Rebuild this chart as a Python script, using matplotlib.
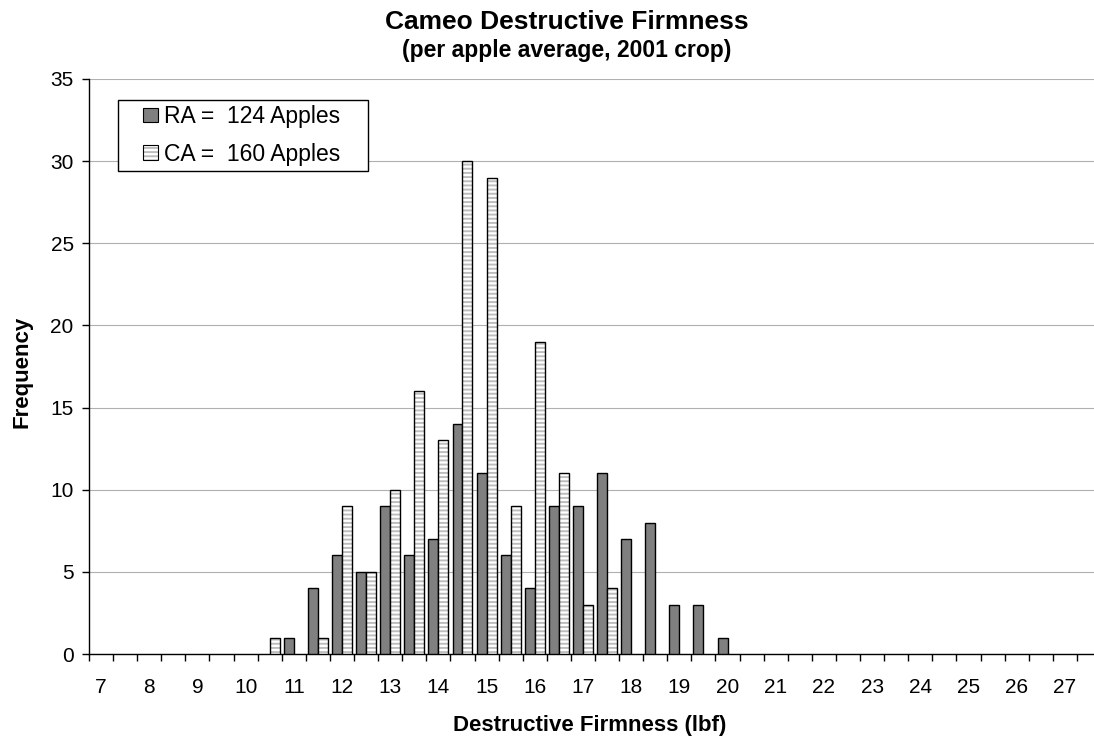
import matplotlib
matplotlib.use('Agg')
import matplotlib.pyplot as plt
from matplotlib.patches import Rectangle, Patch
from matplotlib.legend_handler import HandlerBase
import numpy as np

plt.rcParams['font.family'] = ['Liberation Sans', 'DejaVu Sans']
plt.rcParams['hatch.linewidth'] = 1.4

# firmness bins (lbf) and apple counts per bin
ra_bins = [11, 11.5, 12, 12.5, 13, 13.5, 14, 14.5, 15, 15.5, 16, 16.5, 17, 17.5, 18, 18.5, 19, 19.5, 20]
ra_counts = [1, 4, 6, 5, 9, 6, 7, 14, 11, 6, 4, 9, 9, 11, 7, 8, 3, 3, 1]
ca_bins = [10.5, 11.5, 12, 12.5, 13, 13.5, 14, 14.5, 15, 15.5, 16, 16.5, 17, 17.5]
ca_counts = [1, 1, 9, 5, 10, 16, 13, 30, 29, 9, 19, 11, 3, 4]
x_labels = list(range(7, 28))
ra_label = 'RA =  124 Apples'
ca_label = 'CA =  160 Apples'

STRIPE = '#bdbdbd'


class SquareHandler(HandlerBase):
    # small square pushed to the right end of the handle box
    def create_artists(self, legend, orig_handle, xdescent, ydescent,
                       width, height, fontsize, trans):
        s = 0.65 * fontsize
        x0 = -xdescent + width - s
        y0 = -ydescent + (height - s) / 2
        arts = []
        if orig_handle.get_hatch():
            fill = Rectangle((x0, y0), s, s, facecolor='white', edgecolor=STRIPE,
                             hatch=orig_handle.get_hatch(), linewidth=0)
            arts.append(fill)
            arts.append(Rectangle((x0, y0), s, s, fill=False, edgecolor='black', linewidth=0.8))
        else:
            arts.append(Rectangle((x0, y0), s, s, facecolor=orig_handle.get_facecolor(),
                                  edgecolor='black', linewidth=0.8))
        for a in arts:
            a.set_transform(trans)
        return arts


W, H = 1094, 742
fig = plt.figure(figsize=(W / 100, H / 100), dpi=100)
ax = fig.add_axes([89 / W, 88 / H, 1012 / W, 575 / H])

bw = 0.207
ax.bar(np.array(ra_bins) - bw / 2, ra_counts, width=bw, color='#808080',
       edgecolor='black', linewidth=1.0, zorder=3)
ax.bar(np.array(ca_bins) + bw / 2, ca_counts, width=bw, color='white',
       edgecolor=STRIPE, hatch='----', linewidth=0, zorder=3)
ax.bar(np.array(ca_bins) + bw / 2, ca_counts, width=bw, fill=False,
       edgecolor='black', linewidth=1.0, zorder=4)

ax.set_xlim(6.75, 27.75)
ax.set_ylim(0, 35)
ax.set_yticks(range(0, 36, 5))
ax.set_xticks(x_labels)
ax.set_xticklabels([str(v) for v in x_labels])
ax.set_xticks(np.arange(6.75, 27.8, 0.5), minor=True)
ax.tick_params(axis='x', which='major', length=0, pad=17, labelsize=15)
ax.tick_params(axis='x', which='minor', length=5, width=1, direction='out')
ax.tick_params(axis='y', length=5, width=1, direction='out', pad=6, labelsize=15)

ax.grid(axis='y', color='#b0b0b0', linewidth=0.8)
ax.set_axisbelow(True)
for side in ('top', 'right'):
    ax.spines[side].set_visible(False)
for side in ('left', 'bottom'):
    ax.spines[side].set_linewidth(1.0)
    ax.spines[side].set_color('black')

ax.set_xlabel('Destructive Firmness (lbf)', fontsize=16, weight='bold')
ax.xaxis.set_label_coords((590 - 89) / 1012, (654 - 726) / 575)
ax.xaxis.label.set_va('center')
ax.set_ylabel('Frequency', fontsize=16, weight='bold')
ax.yaxis.set_label_coords((22 - 89) / 1012, (654 - 372) / 575)
ax.yaxis.label.set_va('center')

fig.text(567 / W, 1 - 22 / H, 'Cameo Destructive Firmness', ha='center', va='center',
         fontsize=19, weight='bold')
fig.text(567 / W, 1 - 50 / H, '(per apple average, 2001 crop)', ha='center', va='center',
         fontsize=16.5, weight='bold')

h_ra = Patch(facecolor='#808080')
h_ca = Patch(facecolor='white', hatch='----')
leg = fig.legend([h_ra, h_ca], [ra_label, ca_label],
                 handler_map={h_ra: SquareHandler(), h_ca: SquareHandler()},
                 loc='upper left', bbox_to_anchor=(118 / W, 1 - 100 / H - 0.01, 250 / W, 0.01),
                 mode='expand', fontsize=16.5, handlelength=1.52, handleheight=0.7,
                 handletextpad=0.26, borderpad=0.22, labelspacing=0.65,
                 borderaxespad=0, fancybox=False, framealpha=1, edgecolor='black')
leg.get_frame().set_linewidth(1.0)

fig.savefig('out.png', dpi=100)
